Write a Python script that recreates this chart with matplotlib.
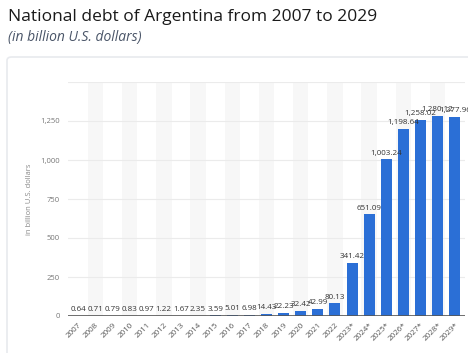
import matplotlib
matplotlib.use("Agg")
import matplotlib.pyplot as plt
from matplotlib.patches import FancyBboxPatch

years = ["2007", "2008", "2009", "2010", "2011", "2012", "2013", "2014", "2015",
         "2016", "2017", "2018", "2019", "2020", "2021", "2022", "2023*", "2024*",
         "2025*", "2026*", "2027*", "2028*", "2029*"]
debt = [0.64, 0.71, 0.79, 0.83, 0.97, 1.22, 1.67, 2.35, 3.59, 5.01, 6.98, 14.43,
        22.23, 32.42, 42.99, 80.13, 341.42, 651.09, 1003.24, 1198.64, 1258.02,
        1280.12, 1277.96]
labels = ["0.64", "0.71", "0.79", "0.83", "0.97", "1.22", "1.67", "2.35", "3.59",
          "5.01", "6.98", "14.43", "22.23", "32.42", "42.99", "80.13", "341.42",
          "651.09", "1,003.24", "1,198.64", "1,258.02", "1,280.12", "1,277.96"]
yticks = [0, 250, 500, 750, 1000, 1250]
ytick_labels = ["0", "250", "500", "750", "1,000", "1,250"]

plt.rcParams["font.family"] = ["Open Sans", "DejaVu Sans"]

fig = plt.figure(figsize=(4.68, 3.53), dpi=100)
W, H = 468, 353

# card background
card = FancyBboxPatch((7 / W, -0.05), 1.0, (H - 57) / H + 0.05,
                      boxstyle="round,pad=0,rounding_size=0.01",
                      transform=fig.transFigure, facecolor="white",
                      edgecolor="#e8eaee", linewidth=1.2, zorder=0)
fig.patches.append(card)

fig.text(8 / W, 1 - 17 / H, "National debt of Argentina from 2007 to 2029",
         fontsize=12.5, color="#1a1a1a", va="center", ha="left")
fig.text(8 / W, 1 - 37 / H, "(in billion U.S. dollars)", fontsize=10,
         style="italic", color="#4a5568", va="center", ha="left")

ax = fig.add_axes([68 / W, 1 - 316 / H, (465 - 68) / W, (316 - 82) / H])
ax.set_zorder(2)
ax.set_facecolor("none")
x = list(range(len(years)))

for i in x:
    if i % 2 == 1:
        ax.axvspan(i - 0.45, i + 0.45, color="#f7f7f7", zorder=0, lw=0)

ax.bar(x, debt, width=0.64, color="#2b6fd6", zorder=3)
for i, (v, lab) in enumerate(zip(debt, labels)):
    ax.text(i, v + 18, lab, ha="center", va="bottom", fontsize=5.8,
            color="#333333", zorder=4)

ax.set_xlim(-0.6, len(years) - 0.4)
ax.set_ylim(0, 1500)
ax.set_yticks(yticks)
ax.set_yticklabels(ytick_labels)
ax.grid(axis="y", color="#ebebeb", lw=0.8, zorder=1)
ax.axhline(1500, color="#ebebeb", lw=0.8, zorder=1)
ax.axhline(0, color="#555555", lw=1.2, zorder=5)
for s in ax.spines.values():
    s.set_visible(False)
ax.tick_params(axis="y", length=0, labelsize=5.5, labelcolor="#777777", pad=6)
ax.set_xticks(x)
ax.set_xticklabels(years, rotation=45, ha="right", rotation_mode="anchor")
ax.tick_params(axis="x", length=0, labelsize=5.8, labelcolor="#555555", pad=4)
ax.set_ylabel("in billion U.S. dollars", fontsize=5.5, color="#888888")
ax.yaxis.set_label_coords(-0.088, 0.5)

fig.savefig("out.png", dpi=100)
